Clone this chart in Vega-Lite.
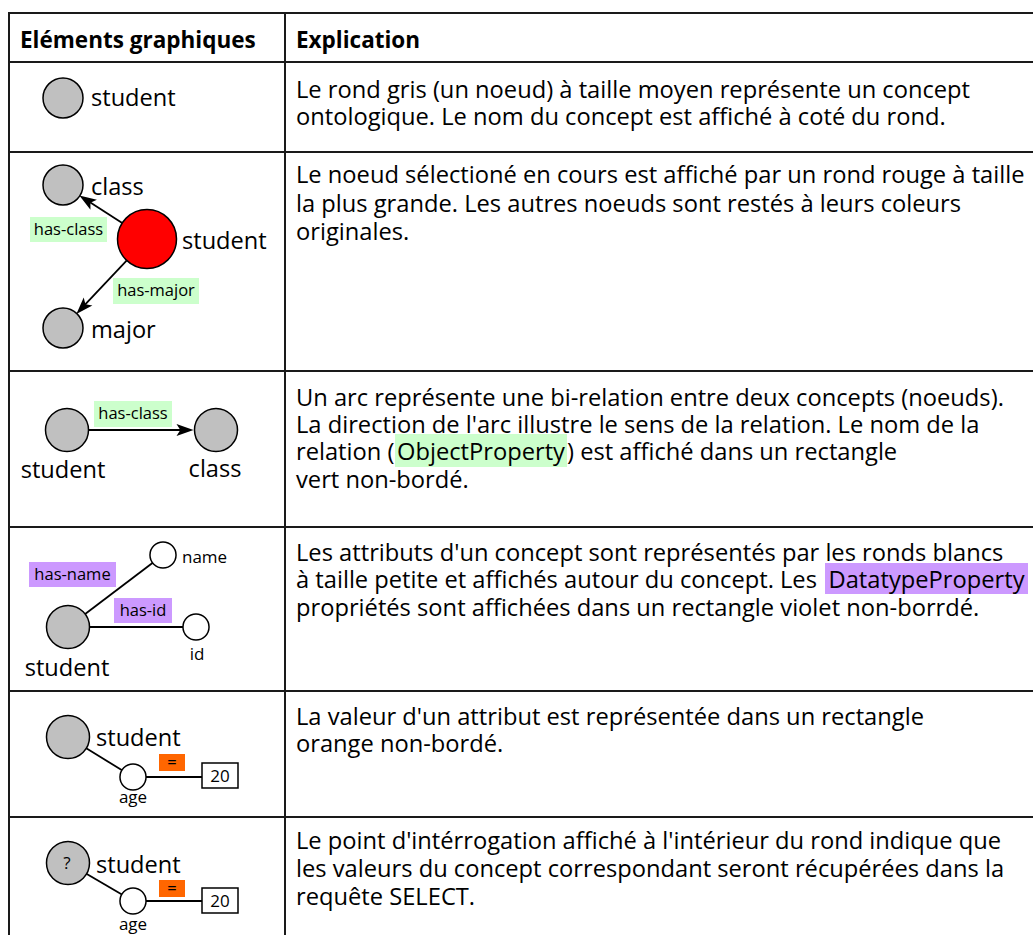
{
  "$schema": "https://vega.github.io/schema/vega-lite/v6.json",
  "width": 1033,
  "height": 935,
  "autosize": {"type": "none"},
  "padding": 0,
  "background": "white",
  "config": {"view": {"stroke": null}},
  "datasets": {
    "grid": [
      {"x": 9, "y": 13, "x2": 1033, "y2": 13},
      {"x": 9, "y": 62, "x2": 1033, "y2": 62},
      {"x": 9, "y": 152, "x2": 1033, "y2": 152},
      {"x": 9, "y": 371, "x2": 1033, "y2": 371},
      {"x": 9, "y": 527, "x2": 1033, "y2": 527},
      {"x": 9, "y": 691, "x2": 1033, "y2": 691},
      {"x": 9, "y": 817, "x2": 1033, "y2": 817},
      {"x": 9, "y": 12, "x2": 9, "y2": 935},
      {"x": 285, "y": 12, "x2": 285, "y2": 935}
    ],
    "edges": [
      {"x": 147, "y": 239, "x2": 86.5, "y2": 200.1},
      {"x": 147, "y": 239, "x2": 82.2, "y2": 307.7},
      {"x": 67, "y": 430, "x2": 185, "y2": 430},
      {"x": 68, "y": 627, "x2": 163, "y2": 555},
      {"x": 68, "y": 627, "x2": 196, "y2": 627},
      {"x": 68, "y": 737, "x2": 133, "y2": 777},
      {"x": 133, "y": 777, "x2": 202, "y2": 777},
      {"x": 68, "y": 863, "x2": 133, "y2": 901},
      {"x": 133, "y": 901, "x2": 202, "y2": 901}
    ],
    "arrows": [
      {"x": 86.5, "y": 200.1, "angle": 212.7},
      {"x": 82.2, "y": 307.7, "angle": 133.3},
      {"x": 185, "y": 430, "angle": 0}
    ],
    "nodes": [
      {"x": 63, "y": 98, "kind": "concept"},
      {"x": 63, "y": 185, "kind": "concept"},
      {"x": 147, "y": 239, "kind": "selected"},
      {"x": 63, "y": 328, "kind": "concept"},
      {"x": 67, "y": 430, "kind": "concept2"},
      {"x": 216, "y": 430, "kind": "concept2"},
      {"x": 68, "y": 627, "kind": "concept2"},
      {"x": 163, "y": 555, "kind": "attribute"},
      {"x": 196, "y": 627, "kind": "attribute"},
      {"x": 68, "y": 737, "kind": "concept2"},
      {"x": 133, "y": 777, "kind": "attribute"},
      {"x": 68, "y": 863, "kind": "concept2"},
      {"x": 133, "y": 901, "kind": "attribute"}
    ],
    "bands": [
      {"x": 30, "x2": 107, "y": 217, "y2": 242, "kind": "object"},
      {"x": 113, "x2": 199, "y": 278, "y2": 304, "kind": "object"},
      {"x": 94, "x2": 172, "y": 401, "y2": 427, "kind": "object"},
      {"x": 395, "x2": 567, "y": 434, "y2": 467, "kind": "object"},
      {"x": 29, "x2": 116, "y": 562, "y2": 587, "kind": "datatype"},
      {"x": 114, "x2": 172, "y": 598, "y2": 623, "kind": "datatype"},
      {"x": 825, "x2": 1028, "y": 563, "y2": 594, "kind": "datatype"},
      {"x": 159, "x2": 185, "y": 754, "y2": 771, "kind": "value"},
      {"x": 159, "x2": 185, "y": 880, "y2": 897, "kind": "value"}
    ],
    "valueBoxes": [
      {"x": 202, "x2": 238, "y": 763, "y2": 788},
      {"x": 202, "x2": 238, "y": 888, "y2": 913}
    ],
    "headers": [
      {"x": 20, "y": 48, "text": "Eléments graphiques"},
      {"x": 296, "y": 48, "text": "Explication"}
    ],
    "body": [
      {"x": 296, "y": 98, "text": "Le rond gris (un noeud) à taille moyen représente un concept"},
      {"x": 296, "y": 125, "text": "ontologique. Le nom du concept est affiché à coté du rond."},
      {"x": 296, "y": 183, "text": "Le noeud sélectioné en cours est affiché par un rond rouge à taille"},
      {"x": 296, "y": 212, "text": "la plus grande. Les autres noeuds sont restés à leurs coleurs"},
      {"x": 296, "y": 240, "text": "originales."},
      {"x": 296, "y": 406, "text": "Un arc représente une bi-relation entre deux concepts (noeuds)."},
      {"x": 296, "y": 433, "text": "La direction de l'arc illustre le sens de la relation. Le nom de la"},
      {"x": 296, "y": 460, "text": "relation ("},
      {"x": 567, "y": 460, "text": ") est affiché dans un rectangle"},
      {"x": 296, "y": 488, "text": "vert non-bordé."},
      {"x": 296, "y": 561, "text": "Les attributs d'un concept sont représentés par les ronds blancs"},
      {"x": 296, "y": 588, "text": "à taille petite et affichés autour du concept. Les"},
      {"x": 296, "y": 616, "text": "propriétés sont affichées dans un rectangle violet non-borrdé."},
      {"x": 296, "y": 725, "text": "La valeur d'un attribut est représentée dans un rectangle"},
      {"x": 296, "y": 752, "text": "orange non-bordé."},
      {"x": 296, "y": 849, "text": "Le point d'intérrogation affiché à l'intérieur du rond indique que"},
      {"x": 296, "y": 877, "text": "les valeurs du concept correspondant seront récupérées dans la"},
      {"x": 296, "y": 905, "text": "requête SELECT."}
    ],
    "bodyWords": [
      {"x": 481, "y": 460, "text": "ObjectProperty"},
      {"x": 926.5, "y": 588, "text": "DatatypeProperty"}
    ],
    "labelsL": [
      {"x": 91, "y": 106, "text": "student"},
      {"x": 91, "y": 195, "text": "class"},
      {"x": 182, "y": 249, "text": "student"},
      {"x": 91, "y": 338, "text": "major"},
      {"x": 96, "y": 746, "text": "student"},
      {"x": 96, "y": 873, "text": "student"}
    ],
    "labelsC": [
      {"x": 63, "y": 478, "text": "student"},
      {"x": 215, "y": 477, "text": "class"},
      {"x": 67, "y": 676, "text": "student"}
    ],
    "smallL": [
      {"x": 182, "y": 563, "text": "name"}
    ],
    "smallC": [
      {"x": 197, "y": 660, "text": "id"},
      {"x": 133, "y": 803, "text": "age"},
      {"x": 133, "y": 930, "text": "age"},
      {"x": 220, "y": 782, "text": "20"},
      {"x": 220, "y": 907, "text": "20"},
      {"x": 67, "y": 869, "text": "?"}
    ],
    "bandText": [
      {"x": 68.5, "y": 229.5, "text": "has-class"},
      {"x": 156, "y": 291, "text": "has-major"},
      {"x": 133, "y": 414, "text": "has-class"},
      {"x": 72.5, "y": 574.5, "text": "has-name"},
      {"x": 143, "y": 610.5, "text": "has-id"},
      {"x": 172, "y": 762.5, "text": "="},
      {"x": 172, "y": 888.5, "text": "="}
    ]
  },
  "layer": [
    {
      "data": {"name": "grid"},
      "mark": {"type": "rule", "stroke": "#1a1a1a", "strokeWidth": 2},
      "encoding": {
        "x": {"field": "x", "type": "quantitative", "scale": {"domain": [0, 1033], "nice": false, "zero": false}, "axis": null},
        "y": {"field": "y", "type": "quantitative", "scale": {"domain": [0, 935], "nice": false, "zero": false, "reverse": true}, "axis": null},
        "x2": {"field": "x2"},
        "y2": {"field": "y2"}
      }
    },
    {
      "data": {"name": "bands"},
      "mark": {"type": "rect", "strokeWidth": 0},
      "encoding": {
        "x": {"field": "x", "type": "quantitative", "scale": {"domain": [0, 1033], "nice": false, "zero": false}, "axis": null},
        "y": {"field": "y", "type": "quantitative", "scale": {"domain": [0, 935], "nice": false, "zero": false, "reverse": true}, "axis": null},
        "x2": {"field": "x2"},
        "y2": {"field": "y2"},
        "color": {"field": "kind", "type": "nominal", "scale": {"domain": ["object", "datatype", "value"], "range": ["#ccffcc", "#cc99ff", "#ff6600"]}, "legend": null}
      }
    },
    {
      "data": {"name": "valueBoxes"},
      "mark": {"type": "rect", "fill": "white", "stroke": "black", "strokeWidth": 1.5},
      "encoding": {
        "x": {"field": "x", "type": "quantitative", "scale": {"domain": [0, 1033], "nice": false, "zero": false}, "axis": null},
        "y": {"field": "y", "type": "quantitative", "scale": {"domain": [0, 935], "nice": false, "zero": false, "reverse": true}, "axis": null},
        "x2": {"field": "x2"},
        "y2": {"field": "y2"}
      }
    },
    {
      "data": {"name": "edges"},
      "mark": {"type": "rule", "stroke": "black", "strokeWidth": 1.8},
      "encoding": {
        "x": {"field": "x", "type": "quantitative", "scale": {"domain": [0, 1033], "nice": false, "zero": false}, "axis": null},
        "y": {"field": "y", "type": "quantitative", "scale": {"domain": [0, 935], "nice": false, "zero": false, "reverse": true}, "axis": null},
        "x2": {"field": "x2"},
        "y2": {"field": "y2"}
      }
    },
    {
      "data": {"name": "arrows"},
      "mark": {"type": "point", "shape": "M1,0L-1,-0.7L-0.55,0L-1,0.7Z", "filled": true, "fill": "black", "strokeWidth": 0, "opacity": 1, "size": 290},
      "encoding": {
        "x": {"field": "x", "type": "quantitative", "scale": {"domain": [0, 1033], "nice": false, "zero": false}, "axis": null},
        "y": {"field": "y", "type": "quantitative", "scale": {"domain": [0, 935], "nice": false, "zero": false, "reverse": true}, "axis": null},
        "angle": {"field": "angle", "type": "quantitative", "scale": null}
      }
    },
    {
      "data": {"name": "nodes"},
      "mark": {"type": "point", "shape": "circle", "filled": true, "stroke": "black", "strokeWidth": 1.5, "opacity": 1, "fillOpacity": 1, "strokeOpacity": 1},
      "encoding": {
        "x": {"field": "x", "type": "quantitative", "scale": {"domain": [0, 1033], "nice": false, "zero": false}, "axis": null},
        "y": {"field": "y", "type": "quantitative", "scale": {"domain": [0, 935], "nice": false, "zero": false, "reverse": true}, "axis": null},
        "fill": {"field": "kind", "type": "nominal", "scale": {"domain": ["concept", "concept2", "selected", "attribute"], "range": ["#c0c0c0", "#c0c0c0", "#ff0000", "#ffffff"]}, "legend": null},
        "size": {"field": "kind", "type": "nominal", "scale": {"type": "ordinal", "domain": ["concept", "concept2", "selected", "attribute"], "range": [1600, 1850, 3480, 680]}, "legend": null}
      }
    },
    {
      "data": {"name": "headers"},
      "mark": {"type": "text", "align": "left", "baseline": "alphabetic", "font": "Open Sans", "fontWeight": "bold", "fontSize": 22.5, "color": "black"},
      "encoding": {
        "x": {"field": "x", "type": "quantitative", "scale": {"domain": [0, 1033], "nice": false, "zero": false}, "axis": null},
        "y": {"field": "y", "type": "quantitative", "scale": {"domain": [0, 935], "nice": false, "zero": false, "reverse": true}, "axis": null},
        "text": {"field": "text", "type": "nominal"}
      }
    },
    {
      "data": {"name": "body"},
      "mark": {"type": "text", "align": "left", "baseline": "alphabetic", "font": "Open Sans", "fontSize": 23.7, "color": "black"},
      "encoding": {
        "x": {"field": "x", "type": "quantitative", "scale": {"domain": [0, 1033], "nice": false, "zero": false}, "axis": null},
        "y": {"field": "y", "type": "quantitative", "scale": {"domain": [0, 935], "nice": false, "zero": false, "reverse": true}, "axis": null},
        "text": {"field": "text", "type": "nominal"}
      }
    },
    {
      "data": {"name": "bodyWords"},
      "mark": {"type": "text", "align": "center", "baseline": "alphabetic", "font": "Open Sans", "fontSize": 23.7, "color": "black"},
      "encoding": {
        "x": {"field": "x", "type": "quantitative", "scale": {"domain": [0, 1033], "nice": false, "zero": false}, "axis": null},
        "y": {"field": "y", "type": "quantitative", "scale": {"domain": [0, 935], "nice": false, "zero": false, "reverse": true}, "axis": null},
        "text": {"field": "text", "type": "nominal"}
      }
    },
    {
      "data": {"name": "labelsL"},
      "mark": {"type": "text", "align": "left", "baseline": "alphabetic", "font": "Open Sans", "fontSize": 23.6, "color": "black"},
      "encoding": {
        "x": {"field": "x", "type": "quantitative", "scale": {"domain": [0, 1033], "nice": false, "zero": false}, "axis": null},
        "y": {"field": "y", "type": "quantitative", "scale": {"domain": [0, 935], "nice": false, "zero": false, "reverse": true}, "axis": null},
        "text": {"field": "text", "type": "nominal"}
      }
    },
    {
      "data": {"name": "labelsC"},
      "mark": {"type": "text", "align": "center", "baseline": "alphabetic", "font": "Open Sans", "fontSize": 23.6, "color": "black"},
      "encoding": {
        "x": {"field": "x", "type": "quantitative", "scale": {"domain": [0, 1033], "nice": false, "zero": false}, "axis": null},
        "y": {"field": "y", "type": "quantitative", "scale": {"domain": [0, 935], "nice": false, "zero": false, "reverse": true}, "axis": null},
        "text": {"field": "text", "type": "nominal"}
      }
    },
    {
      "data": {"name": "smallL"},
      "mark": {"type": "text", "align": "left", "baseline": "alphabetic", "font": "Open Sans", "fontSize": 17, "color": "black"},
      "encoding": {
        "x": {"field": "x", "type": "quantitative", "scale": {"domain": [0, 1033], "nice": false, "zero": false}, "axis": null},
        "y": {"field": "y", "type": "quantitative", "scale": {"domain": [0, 935], "nice": false, "zero": false, "reverse": true}, "axis": null},
        "text": {"field": "text", "type": "nominal"}
      }
    },
    {
      "data": {"name": "smallC"},
      "mark": {"type": "text", "align": "center", "baseline": "alphabetic", "font": "Open Sans", "fontSize": 17, "color": "black"},
      "encoding": {
        "x": {"field": "x", "type": "quantitative", "scale": {"domain": [0, 1033], "nice": false, "zero": false}, "axis": null},
        "y": {"field": "y", "type": "quantitative", "scale": {"domain": [0, 935], "nice": false, "zero": false, "reverse": true}, "axis": null},
        "text": {"field": "text", "type": "nominal"}
      }
    },
    {
      "data": {"name": "bandText"},
      "mark": {"type": "text", "align": "center", "baseline": "middle", "font": "Open Sans", "fontSize": 16.5, "color": "black"},
      "encoding": {
        "x": {"field": "x", "type": "quantitative", "scale": {"domain": [0, 1033], "nice": false, "zero": false}, "axis": null},
        "y": {"field": "y", "type": "quantitative", "scale": {"domain": [0, 935], "nice": false, "zero": false, "reverse": true}, "axis": null},
        "text": {"field": "text", "type": "nominal"}
      }
    }
  ]
}
